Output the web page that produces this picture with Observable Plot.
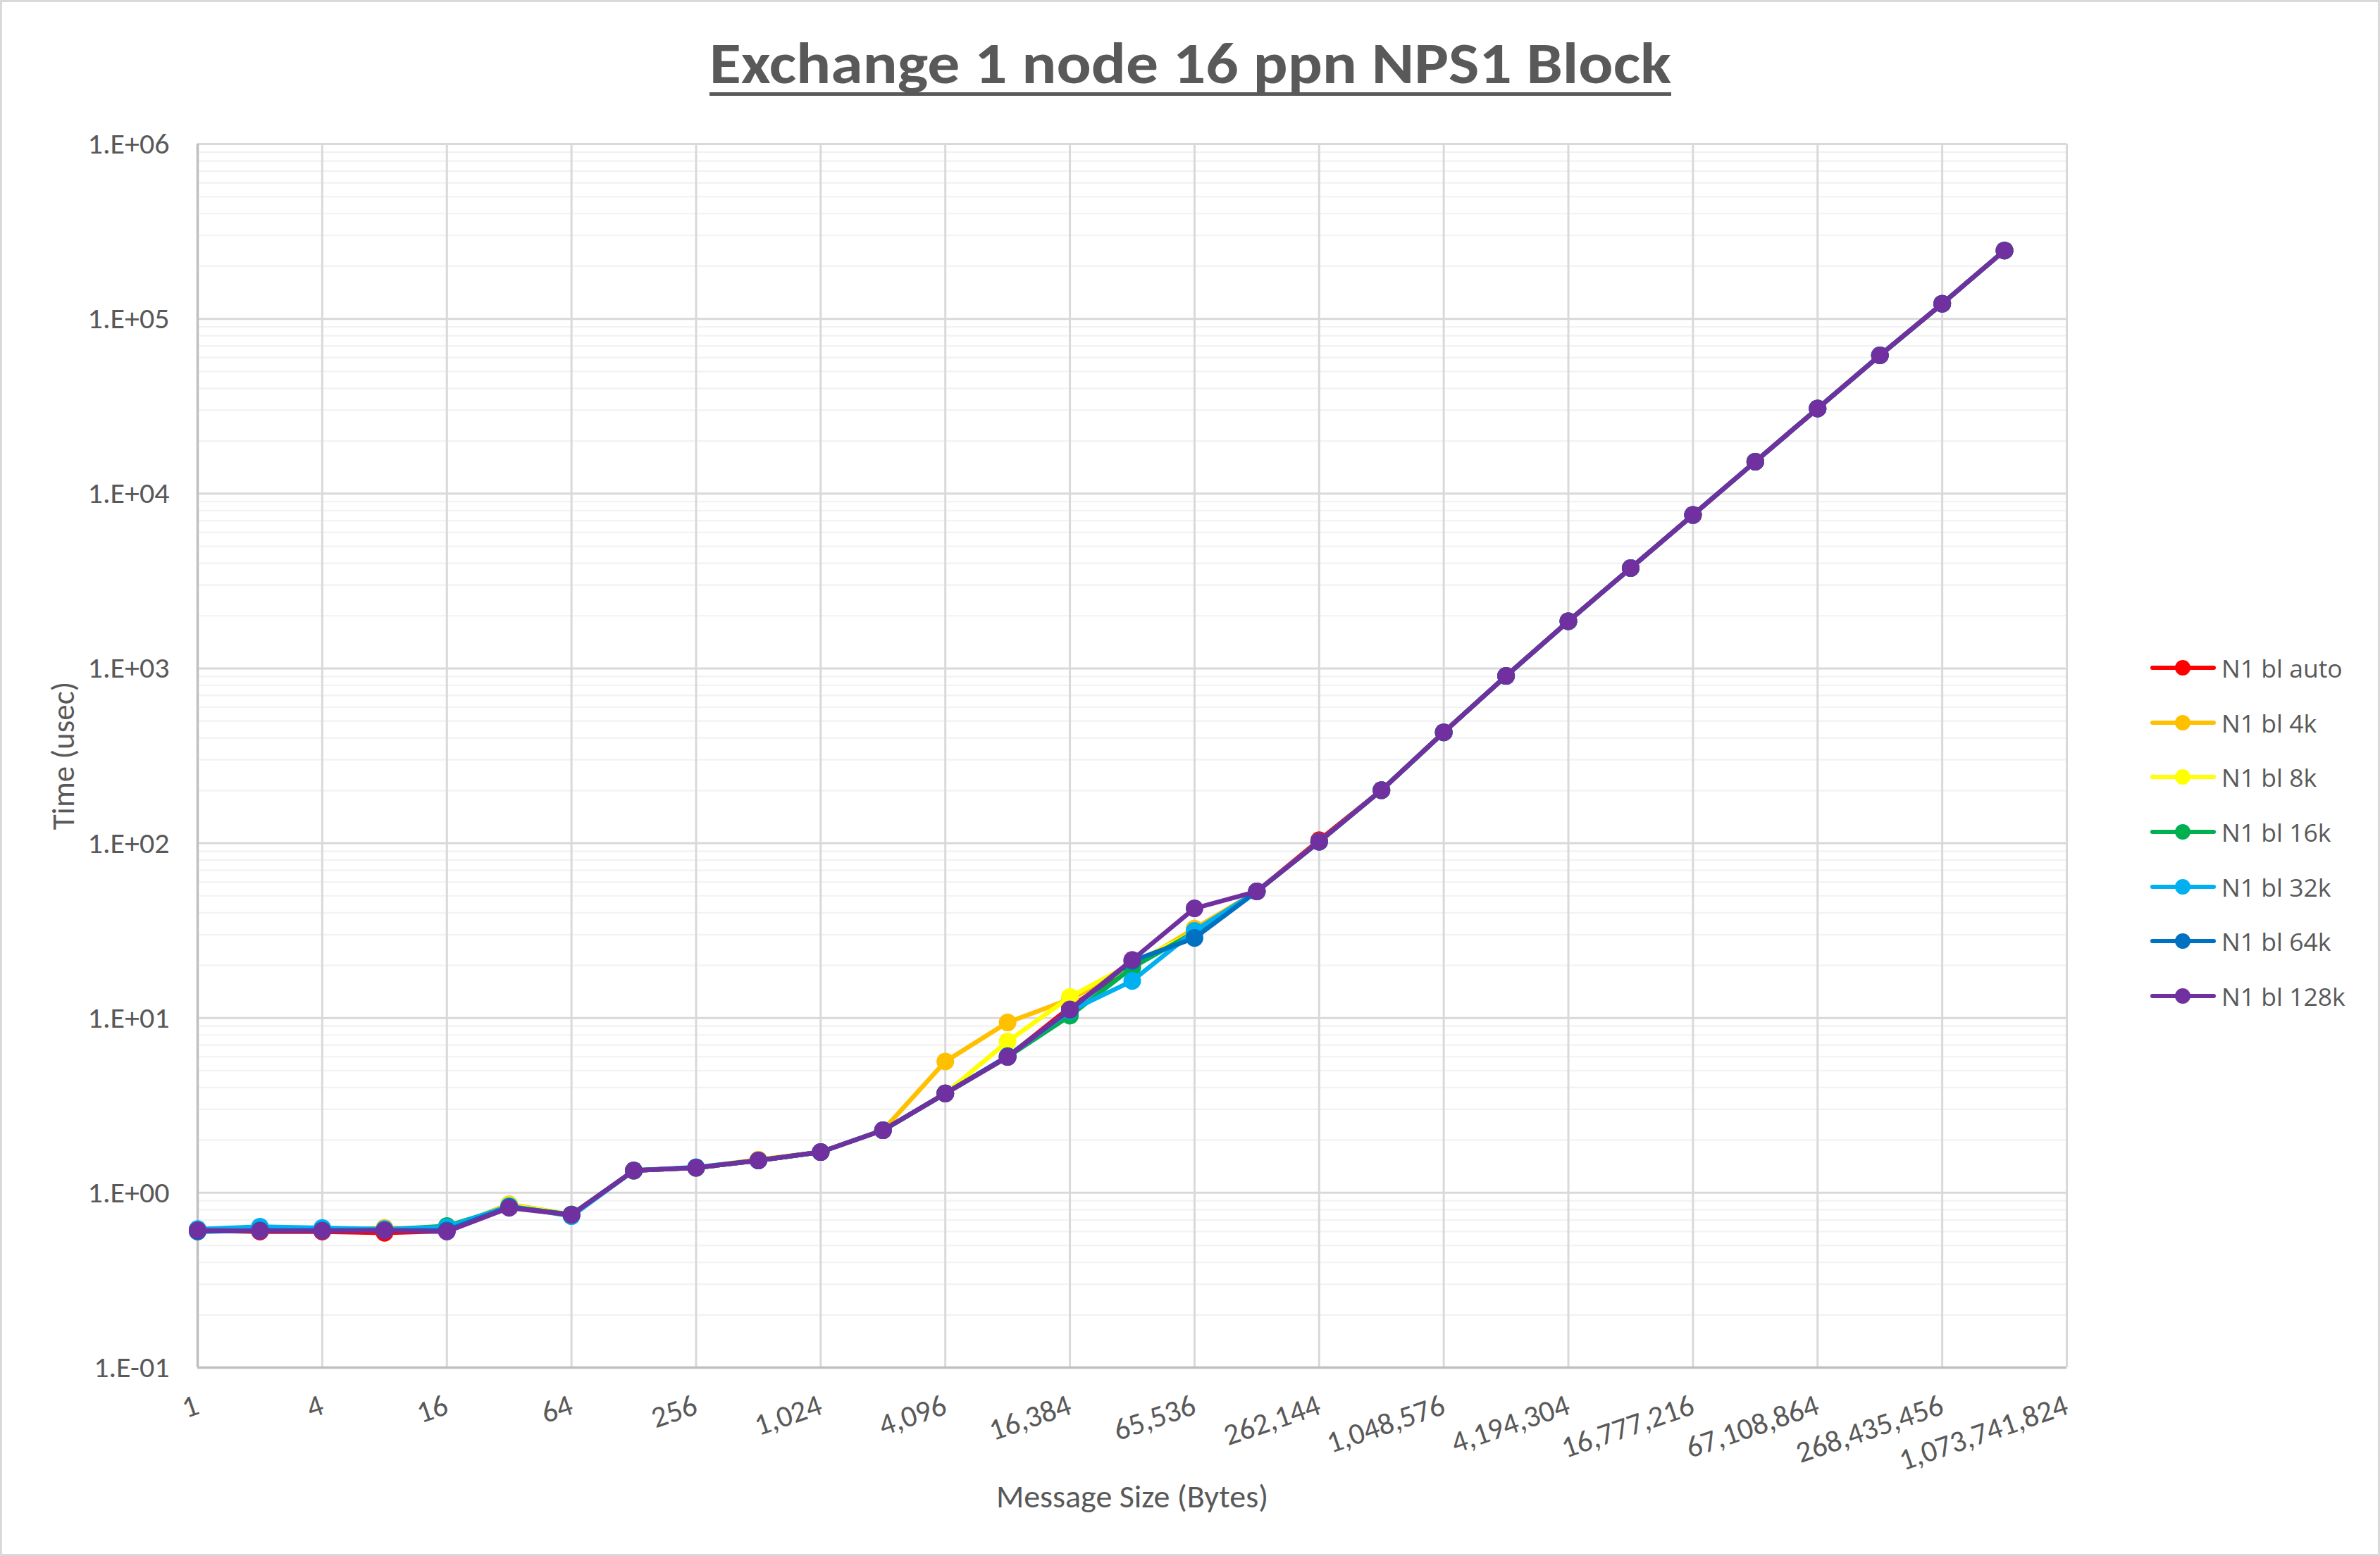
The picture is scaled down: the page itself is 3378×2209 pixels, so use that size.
<!DOCTYPE html>
<html>
<head>
<meta charset="utf-8">
<script src="https://cdn.jsdelivr.net/npm/d3@7"></script>
<script src="https://cdn.jsdelivr.net/npm/@observablehq/plot@0.6"></script>
<style>
html, body { margin: 0; padding: 0; background: #fff; }
#chart { position: relative; width: 3378px; height: 2209px; background: #fff; overflow: hidden; font-family: Carlito, Calibri, Lato, sans-serif; color: #595959; }
#frame { position: absolute; left: 0; top: 0; width: 3378px; height: 2209px; box-sizing: border-box; border: 3px solid #D9D9D9; pointer-events: none; }
#plot { position: absolute; left: 0; top: 0; }
#title { position: absolute; left: 0; top: 49px; width: 3378px; text-align: center; font-weight: bold; font-size: 82px; line-height: 1; white-space: nowrap; }
#title span { display: inline-block; transform-origin: 50% 50%; }
#underline { position: absolute; height: 5px; background: #595959; top: 131px; }
#legend { position: absolute; left: 3050px; top: 909px; font-family: "Open Sans", sans-serif; font-size: 35.5px; color: #595959; }
#legend .row { display: flex; align-items: center; height: 77.7px; }
#legend .row span { margin-left: 3px; white-space: nowrap; }
</style>
</head>
<body>
<div id="chart">
  <div id="plot"></div>
  <div id="title"><span>Exchange 1 node 16 ppn NPS1 Block</span></div>
  <div id="underline"></div>
  <div id="legend"></div>
  <div id="frame"></div>
</div>
<script>
// ---- data ----
const sizes = [1, 2, 4, 8, 16, 32, 64, 128, 256, 512, 1024, 2048, 4096, 8192, 16384, 32768, 65536, 131072,
  262144, 524288, 1048576, 2097152, 4194304, 8388608, 16777216, 33554432, 67108864, 134217728, 268435456, 536870912];

const seriesNames = ["N1 bl auto", "N1 bl 4k", "N1 bl 8k", "N1 bl 16k", "N1 bl 32k", "N1 bl 64k", "N1 bl 128k"];
const seriesColors = ["#FF0000", "#FFC000", "#FFFF00", "#00B050", "#00B0F0", "#0070C0", "#7030A0"];

const blAuto = [0.61, 0.60, 0.60, 0.59, 0.605, 0.83, 0.75, 1.34, 1.39, 1.53, 1.71, 2.28, 3.70, 6.0, 11.5, 20.0, 31.0, 53,
  104, 201, 431, 906, 1862, 3750, 7550, 15240, 30700, 61800, 122000, 246000];
const bl4k = [0.615, 0.61, 0.61, 0.63, 0.62, 0.86, 0.75, 1.34, 1.39, 1.55, 1.71, 2.28, 5.64, 9.43, 12.8, 19.8, 32.5, 53,
  102, 201, 431, 906, 1862, 3750, 7550, 15240, 30700, 61800, 122000, 246000];
const bl8k = [0.615, 0.61, 0.61, 0.62, 0.62, 0.85, 0.75, 1.34, 1.39, 1.53, 1.71, 2.28, 3.70, 7.34, 13.2, 20.5, 31.0, 53,
  102, 201, 431, 906, 1862, 3750, 7550, 15240, 30700, 61800, 122000, 246000];
const bl16k = [0.615, 0.61, 0.61, 0.615, 0.645, 0.83, 0.75, 1.34, 1.39, 1.53, 1.71, 2.28, 3.70, 5.98, 10.3, 19.4, 31.0, 53,
  102, 201, 431, 906, 1862, 3750, 7550, 15240, 30700, 61800, 122000, 246000];
const bl32k = [0.62, 0.64, 0.63, 0.62, 0.635, 0.84, 0.735, 1.34, 1.40, 1.53, 1.71, 2.28, 3.70, 6.0, 11.0, 16.3, 31.5, 53,
  102, 201, 431, 906, 1862, 3750, 7550, 15240, 30700, 61800, 122000, 246000];
const bl64k = [0.60, 0.61, 0.61, 0.61, 0.61, 0.83, 0.75, 1.34, 1.39, 1.53, 1.71, 2.28, 3.70, 6.05, 11.1, 21.2, 28.7, 53,
  102, 201, 431, 906, 1862, 3750, 7550, 15240, 30700, 61800, 122000, 246000];
const bl128k = [0.61, 0.605, 0.605, 0.61, 0.60, 0.82, 0.748, 1.34, 1.39, 1.53, 1.71, 2.28, 3.70, 5.98, 11.2, 21.5, 42.4, 53,
  102, 201, 431, 906, 1862, 3750, 7550, 15240, 30700, 61800, 122000, 246000];

const xTicks = [1, 4, 16, 64, 256, 1024, 4096, 16384, 65536, 262144, 1048576, 4194304, 16777216, 67108864, 268435456, 1073741824];
const yTicks = [0.1, 1, 10, 100, 1000, 10000, 100000, 1000000];
const minorMultipliers = [2, 3, 4, 5, 6, 7, 8, 9];

const titleText = "Exchange 1 node 16 ppn NPS1 Block";
const xTitle = "Message Size (Bytes)";
const yTitle = "Time (usec)";

// ---- build ----
const seriesValues = [blAuto, bl4k, bl8k, bl16k, bl32k, bl64k, bl128k];
const yMinor = yTicks.slice(0, -1).flatMap(d => minorMultipliers.map(m => m * d));
const fmtY = d => { const e = Math.round(Math.log10(d)); return "1.E" + (e < 0 ? "-" : "+") + String(Math.abs(e)).padStart(2, "0"); };
const fmtX = d3.format(",");

const W = 3378, H = 2209;
const font = "Carlito, Calibri, Lato, sans-serif";

const seriesMarks = seriesNames.flatMap((name, i) => {
  const rows = sizes.map((s, j) => ({series: name, size: s, value: seriesValues[i][j]}));
  return [
    Plot.line(rows, {x: "size", y: "value", stroke: seriesColors[i], strokeWidth: 6.5, strokeLinejoin: "round", strokeLinecap: "round"}),
    Plot.dot(rows, {x: "size", y: "value", r: 12.5, fill: seriesColors[i]})
  ];
});

const chart = Plot.plot({
  width: W,
  height: H,
  marginLeft: 280,
  marginRight: W - 2933,
  marginTop: 204,
  marginBottom: H - 1941,
  style: {fontFamily: font, color: "#595959", background: "transparent", overflow: "visible"},
  x: {type: "log", domain: [1, 1073741824], axis: null},
  y: {type: "log", domain: [0.1, 1000000], axis: null},
  marks: [
    Plot.ruleY(yMinor, {stroke: "#F2F2F2", strokeWidth: 2.2}),
    Plot.ruleY(yTicks, {stroke: "#D9D9D9", strokeWidth: 3}),
    Plot.ruleX(xTicks, {stroke: "#D9D9D9", strokeWidth: 3}),
    Plot.ruleX([1], {stroke: "#BFBFBF", strokeWidth: 3.5}),
    Plot.ruleY([0.1], {stroke: "#BFBFBF", strokeWidth: 3.5}),
    ...seriesMarks,
    Plot.axisY(yTicks, {tickSize: 0, tickPadding: 40, tickFormat: fmtY, fontSize: 42, label: null, fill: "#595959"}),
    Plot.text(xTicks, {x: d => d, text: d => fmtX(d), frameAnchor: "bottom", rotate: -19, textAnchor: "end", lineAnchor: "middle", dy: 52, dx: 0, fontSize: 43, fill: "#595959"}),
    Plot.text([xTitle], {text: d => d, frameAnchor: "bottom", textAnchor: "middle", lineAnchor: "middle", dy: 184, fontSize: 46, fill: "#595959"}),
    Plot.text([yTitle], {text: d => d, frameAnchor: "left", textAnchor: "middle", lineAnchor: "middle", dx: -190, rotate: -90, fontSize: 45, fill: "#595959"})
  ]
});
document.getElementById("plot").appendChild(chart);

// title sizing
const span = document.querySelector("#title span");
span.textContent = titleText;
const natural = span.getBoundingClientRect().width;
const targetW = 1365;
span.style.transform = `scaleX(${targetW / natural})`;
const ul = document.getElementById("underline");
ul.style.width = targetW + "px";
ul.style.left = (1689 - targetW / 2) + "px";
document.getElementById("title").style.left = (1689 - W / 2) + "px";

// legend
const legend = d3.select("#legend");
seriesNames.forEach((name, i) => {
  const row = legend.append("div").attr("class", "row");
  const svg = row.append("svg").attr("width", 100).attr("height", 30);
  svg.append("line").attr("x1", 5).attr("x2", 92).attr("y1", 15).attr("y2", 15)
    .attr("stroke", seriesColors[i]).attr("stroke-width", 6).attr("stroke-linecap", "round");
  svg.append("circle").attr("cx", 48).attr("cy", 15).attr("r", 11).attr("fill", seriesColors[i]);
  row.append("span").text(name);
});
</script>
</body>
</html>
